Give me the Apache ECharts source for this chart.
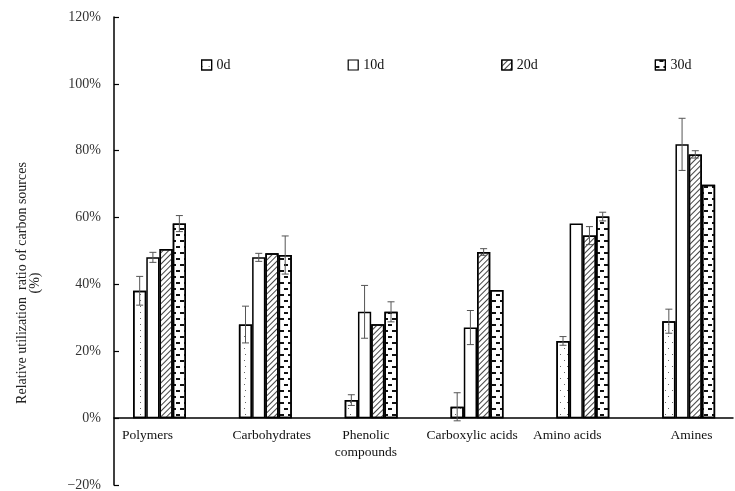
<!DOCTYPE html>
<html><head><meta charset="utf-8">
<script src="https://cdn.jsdelivr.net/npm/echarts@6/dist/echarts.min.js"></script>
<style>html,body{margin:0;padding:0;background:#fff}#c{width:735px;height:491px}</style>
</head><body><div id="c"></div>
<script>
const categories = ['Polymers', 'Carbohydrates', 'Phenolic\ncompounds', 'Carboxylic acids', 'Amino acids', 'Amines'];
const seriesNames = ['0d', '10d', '20d', '30d'];
const v0d  = [38.1, 28.0, 5.4, 3.4, 23.1, 29.0];
const v10d = [48.1, 48.1, 31.8, 27.1, 58.2, 81.9];
const v20d = [50.6, 49.3, 28.1, 49.7, 54.6, 78.9];
const v30d = [58.2, 48.8, 31.8, 38.3, 60.3, 69.8];
const e0d  = [4.3, 5.5, 1.6, 4.2, 1.3, 3.6];
const e10d = [1.5, 1.2, 7.9, 5.1, 0, 7.8];
const e20d = [0, 0, 0, 1.0, 2.7, 1.1];
const e30d = [2.4, 5.7, 3.0, 0, 1.3, 0];
const yTicks = [-20, 0, 20, 40, 60, 80, 100, 120];
const yTitle = 'Relative utilization  ratio of carbon sources\n(%)';

const values = [v0d, v10d, v20d, v30d];
const errors = [e0d, e10d, e20d, e30d];
const FONT = '"Liberation Serif", "Times New Roman", serif';
const yMin = yTicks[0], yMax = yTicks[yTicks.length - 1], yStep = yTicks[1] - yTicks[0];

const decals = [
  { symbol: 'rect', symbolSize: 1, color: '#666', dashArrayX: [[1, 6], [0, 3.5, 1, 2.5]], dashArrayY: [1, 5] },
  'none',
  { symbol: 'rect', symbolSize: 1, color: '#444', dashArrayX: [1, 0], dashArrayY: [1, 2.2], rotation: -Math.PI / 4 },
  { symbol: 'rect', symbolSize: 1, color: '#111', dashArrayX: [[4, 4], [0, 4, 4, 0]], dashArrayY: [1.5, 3.5] }
];

// horizontal nudges of the category labels (px), as placed in the original
const labelShift = [-18, 3, -6, -3, -11, 10];
const rich = {};
labelShift.forEach((s, i) => {
  rich['c' + i] = { fontFamily: FONT, fontSize: 13.5, color: '#111', lineHeight: 17, align: 'center',
    padding: s < 0 ? [0, -2 * s, 0, 0] : [0, 0, 0, 2 * s] };
});

const series = [];
seriesNames.forEach((name, k) => {
  const st = { color: '#fff', borderColor: '#000', borderWidth: 1.5 };
  if (decals[k] !== 'none') st.decal = decals[k];
  series.push({
    name, type: 'bar', xAxisIndex: 1, yAxisIndex: 1,
    barGap: '0%', barCategoryGap: '50%',
    itemStyle: st, data: values[k], silent: true
  });
});
seriesNames.forEach((name, k) => {
  series.push({
    name: name + ' err', type: 'custom', xAxisIndex: 1, yAxisIndex: 1, z: 10, silent: true,
    data: values[k].map((v, i) => [i, v, errors[k][i]]),
    encode: { x: 0, y: 1 },
    renderItem(params, api) {
      const e = api.value(2);
      if (!e) return null;
      const i = api.value(0), v = api.value(1);
      const w = api.size([1, 0])[0];
      const off = (k - 1.5) * w / 8;
      const t = api.coord([i, v + e]);
      const b = api.coord([i, v - e]);
      const x = t[0] + off, cap = 3.5;
      const ls = { stroke: '#555', lineWidth: 1 };
      return { type: 'group', children: [
        { type: 'line', shape: { x1: x, y1: t[1], x2: x, y2: b[1] }, style: ls },
        { type: 'line', shape: { x1: x - cap, y1: t[1], x2: x + cap, y2: t[1] }, style: ls },
        { type: 'line', shape: { x1: x - cap, y1: b[1], x2: x + cap, y2: b[1] }, style: ls }
      ]};
    }
  });
});

const chart = echarts.init(document.getElementById('c'), null, { renderer: 'canvas' });
chart.setOption({
  animation: false,
  backgroundColor: '#fff',
  grid: [
    { left: 114, right: 2, top: 17, bottom: 6, outerBoundsMode: 'none' },
    { left: 106.6, width: 635, top: 17, bottom: 6, outerBoundsMode: 'none' },
    { left: 114, right: 2, top: 17, bottom: 73, outerBoundsMode: 'none' }
  ],
  legend: {
    data: seriesNames, left: 196, top: 53, itemWidth: 10, itemHeight: 10, itemGap: 117,
    icon: 'rect', itemStyle: { borderWidth: 1.2 },
    textStyle: { fontFamily: FONT, fontSize: 14, color: '#111' }, selectedMode: false
  },
  xAxis: [
    { type: 'category', gridIndex: 0, data: categories,
      axisLine: { show: true, onZero: true, lineStyle: { color: '#000', width: 1.5 } },
      axisTick: { show: false }, axisLabel: { show: false } },
    { type: 'category', gridIndex: 1, data: categories, show: false },
    { type: 'category', gridIndex: 2, data: categories,
      axisLine: { show: false }, axisTick: { show: false },
      axisLabel: { show: true, interval: 0, margin: 9, fontFamily: FONT, fontSize: 13.5, color: '#111', lineHeight: 17,
        formatter: (val, idx) => '{c' + idx + '|' + val + '}', rich } }
  ],
  yAxis: [
    { type: 'value', gridIndex: 0, min: yMin, max: yMax, interval: yStep,
      axisLine: { show: true, lineStyle: { color: '#000', width: 1.5 } },
      axisTick: { show: true, inside: true, length: 5, lineStyle: { color: '#000', width: 1.2 } },
      splitLine: { show: false },
      axisLabel: { margin: 13, fontFamily: FONT, fontSize: 14, color: '#333',
        formatter: v => (v < 0 ? '\u2212' + (-v) : v) + '%' } },
    { type: 'value', gridIndex: 1, min: yMin, max: yMax, interval: yStep, show: false, splitLine: { show: false } },
    { type: 'value', gridIndex: 2, min: 0, max: yMax, interval: yStep, show: false, splitLine: { show: false } }
  ],
  graphic: [{
    type: 'text', x: 29, y: 283, rotation: Math.PI / 2,
    style: { text: yTitle, fontFamily: FONT, fontSize: 14, fill: '#222', align: 'center',
      verticalAlign: 'middle', lineHeight: 13 }
  }],
  series
});
</script>
</body></html>
